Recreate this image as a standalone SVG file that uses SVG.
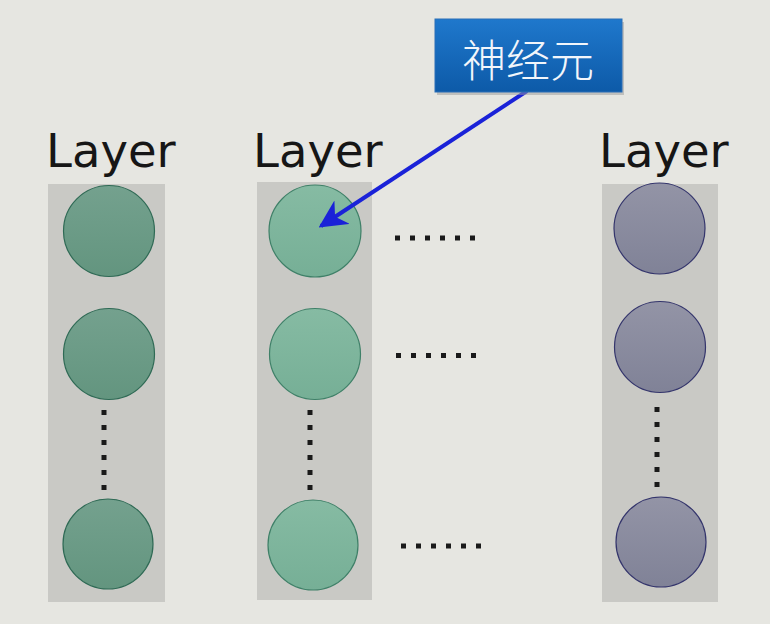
<svg xmlns="http://www.w3.org/2000/svg" width="770" height="624" viewBox="0 0 770 624">
<defs>
<linearGradient id="g1" x1="0" y1="0" x2="0" y2="1"><stop offset="0" stop-color="#74a18e"/><stop offset="1" stop-color="#63957f"/></linearGradient>
<linearGradient id="g2" x1="0" y1="0" x2="0" y2="1"><stop offset="0" stop-color="#86bba3"/><stop offset="1" stop-color="#76af96"/></linearGradient>
<linearGradient id="g3" x1="0" y1="0" x2="0" y2="1"><stop offset="0" stop-color="#9394a6"/><stop offset="1" stop-color="#808297"/></linearGradient>
<linearGradient id="gb" x1="0" y1="0" x2="0" y2="1"><stop offset="0" stop-color="#1f78cc"/><stop offset="1" stop-color="#0d5aa8"/></linearGradient>
<marker id="ah" viewBox="0 0 10 10" refX="9" refY="5" markerWidth="7" markerHeight="7" orient="auto" markerUnits="strokeWidth">
<path d="M0,0 L10,5 L0,10 L3,5 Z" fill="#1a22d8"/>
</marker>
</defs>
<style>
.bg{fill:#e6e6e1}
.col{fill:#c9c9c5}
.n1{fill:url(#g1);stroke:#2f6a55;stroke-width:1.2}
.n2{fill:url(#g2);stroke:#3f8068;stroke-width:1.2}
.n3{fill:url(#g3);stroke:#34356c;stroke-width:1.2}
.lbl{font-family:"DejaVu Sans",Verdana,sans-serif;font-size:46.5px;fill:#161616}
.dot{fill:#1a1a1a}
</style>
<rect class="bg" x="0" y="0" width="770" height="624"/>
<g id="layer1">
<rect class="col" x="48" y="184" width="117" height="418"/>
<text class="lbl" x="46" y="167">Layer</text>
<circle class="n1" cx="109" cy="231" r="45.5"/>
<circle class="n1" cx="109" cy="354" r="45.5"/>
<circle class="n1" cx="108" cy="544" r="45"/>
<g class="dot"><rect x="101.5" y="410" width="5" height="5"/><rect x="101.5" y="425" width="5" height="5"/><rect x="101.5" y="440" width="5" height="5"/><rect x="101.5" y="455" width="5" height="5"/><rect x="101.5" y="470" width="5" height="5"/><rect x="101.5" y="485" width="5" height="5"/></g>
</g>
<g id="layer2">
<rect class="col" x="257" y="182" width="115" height="418"/>
<text class="lbl" x="253" y="167">Layer</text>
<circle class="n2" cx="315" cy="231" r="46"/>
<circle class="n2" cx="315" cy="354" r="45.5"/>
<circle class="n2" cx="313" cy="545" r="45"/>
<g class="dot"><rect x="307.5" y="410" width="5" height="5"/><rect x="307.5" y="425" width="5" height="5"/><rect x="307.5" y="440" width="5" height="5"/><rect x="307.5" y="455" width="5" height="5"/><rect x="307.5" y="470" width="5" height="5"/><rect x="307.5" y="485" width="5" height="5"/></g>
</g>
<g id="layer3">
<rect class="col" x="602" y="184" width="116" height="418"/>
<text class="lbl" x="599" y="167">Layer</text>
<circle class="n3" cx="659.5" cy="228.5" r="45.5"/>
<circle class="n3" cx="660" cy="347" r="45.5"/>
<circle class="n3" cx="661" cy="542" r="45"/>
<g class="dot"><rect x="654.5" y="407" width="5" height="5"/><rect x="654.5" y="422" width="5" height="5"/><rect x="654.5" y="437" width="5" height="5"/><rect x="654.5" y="452" width="5" height="5"/><rect x="654.5" y="467" width="5" height="5"/><rect x="654.5" y="482" width="5" height="5"/></g>
</g>
<g id="hdots">
<g class="dot"><rect x="395" y="235.5" width="5" height="5"/><rect x="410" y="235.5" width="5" height="5"/><rect x="425" y="235.5" width="5" height="5"/><rect x="440" y="235.5" width="5" height="5"/><rect x="455" y="235.5" width="5" height="5"/><rect x="470" y="235.5" width="5" height="5"/></g>
<g class="dot"><rect x="396" y="353" width="5" height="5"/><rect x="411" y="353" width="5" height="5"/><rect x="426" y="353" width="5" height="5"/><rect x="441" y="353" width="5" height="5"/><rect x="456" y="353" width="5" height="5"/><rect x="471" y="353" width="5" height="5"/></g>
<g class="dot"><rect x="401" y="543.5" width="5" height="5"/><rect x="416" y="543.5" width="5" height="5"/><rect x="431" y="543.5" width="5" height="5"/><rect x="446" y="543.5" width="5" height="5"/><rect x="461" y="543.5" width="5" height="5"/><rect x="476" y="543.5" width="5" height="5"/></g>
</g>
<g id="connectors">
<line x1="527" y1="91" x2="321" y2="226" stroke="#1a22d8" stroke-width="4" marker-end="url(#ah)"/>
</g>
<g id="callout">
<rect x="437" y="22" width="187" height="73" fill="#9a9a9a" opacity="0.5"/>
<rect x="435" y="19" width="187" height="73" fill="url(#gb)" stroke="#2a6fb8" stroke-width="1"/>
<text x="528" y="77" text-anchor="middle" font-family="'Noto Sans CJK SC','DejaVu Sans',sans-serif" font-size="44" font-weight="300" fill="#f2f6fb">神经元</text>
</g>
</svg>
